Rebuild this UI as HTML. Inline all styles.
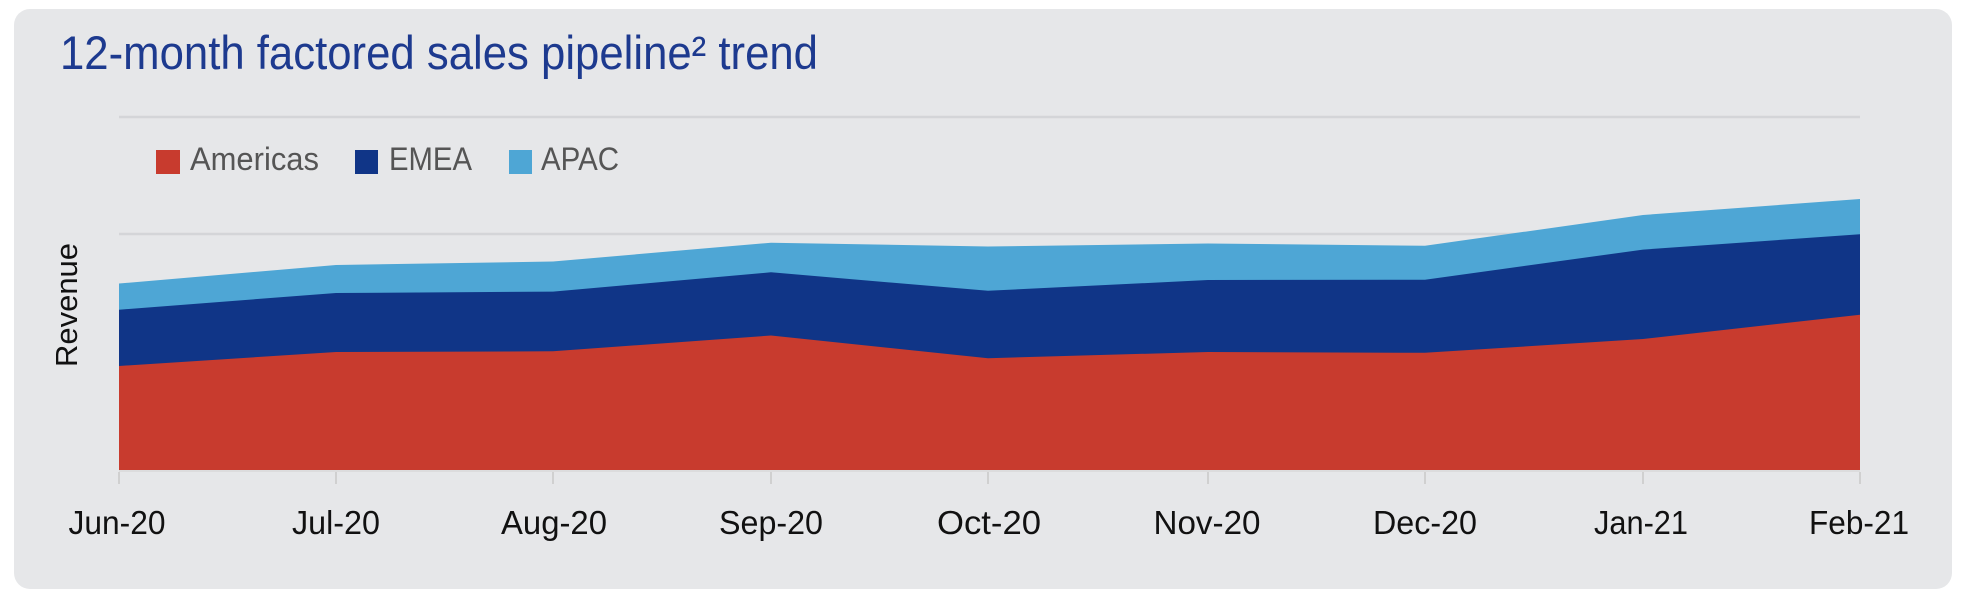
<!DOCTYPE html>
<html><head><meta charset="utf-8"><style>
html,body{margin:0;padding:0;background:#fff;width:1970px;height:604px;overflow:hidden}
</style></head><body>
<svg width="1970" height="604" viewBox="0 0 1970 604" xmlns="http://www.w3.org/2000/svg">
<rect x="14" y="9" width="1938" height="580" rx="16" fill="#e6e7e9"/>
<text x="60" y="69" font-family="Liberation Sans, sans-serif" font-size="47" fill="#1d3a8f" textLength="758" lengthAdjust="spacingAndGlyphs">12-month factored sales pipeline² trend</text>
<line x1="119" y1="117" x2="1860" y2="117" stroke="#d4d5d8" stroke-width="2.5"/>
<line x1="119" y1="234" x2="1860" y2="234" stroke="#d4d5d8" stroke-width="2.5"/>
<rect x="156" y="150" width="24" height="24" fill="#c83b2e"/>
<text x="190" y="170" font-family="Liberation Sans, sans-serif" font-size="32" fill="#555" textLength="129" lengthAdjust="spacingAndGlyphs">Americas</text>
<rect x="355" y="150" width="23" height="24" fill="#103587"/>
<text x="389" y="170" font-family="Liberation Sans, sans-serif" font-size="32" fill="#555" textLength="83" lengthAdjust="spacingAndGlyphs">EMEA</text>
<rect x="509" y="150" width="23" height="24" fill="#4ea6d5"/>
<text x="541" y="170" font-family="Liberation Sans, sans-serif" font-size="32" fill="#555" textLength="78" lengthAdjust="spacingAndGlyphs">APAC</text>
<text transform="translate(77,305) rotate(-90)" text-anchor="middle" font-family="Liberation Sans, sans-serif" font-size="31" fill="#111">Revenue</text>
<polygon fill="#4ea6d5" points="119,283.5 336,265 553,261.5 771,242.7 988,246.5 1208,243.5 1425,245.8 1643,215 1860,199 1860,470 119,470"/>
<polygon fill="#103587" points="119,309.7 336,293 553,291.6 771,272.3 988,290.8 1208,280 1425,279.7 1643,249.6 1860,234.2 1860,470 119,470"/>
<polygon fill="#c83b2e" points="119,366 336,352 553,351.3 771,335.5 988,358.2 1208,352 1425,352.8 1643,339 1860,314.7 1860,470 119,470"/>
<line x1="119" y1="471" x2="1860" y2="471" stroke="#d9d9d9" stroke-width="1.5"/>
<g stroke="#d0d0d0" stroke-width="2">
<line x1="119" y1="472" x2="119" y2="484"/><line x1="336" y1="472" x2="336" y2="484"/><line x1="553" y1="472" x2="553" y2="484"/><line x1="771" y1="472" x2="771" y2="484"/><line x1="988" y1="472" x2="988" y2="484"/><line x1="1208" y1="472" x2="1208" y2="484"/><line x1="1425" y1="472" x2="1425" y2="484"/><line x1="1643" y1="472" x2="1643" y2="484"/><line x1="1860" y1="472" x2="1860" y2="484"/>
</g>
<g font-family="Liberation Sans, sans-serif" font-size="33" fill="#111" text-anchor="middle">
<text x="117" y="534" textLength="97" lengthAdjust="spacingAndGlyphs">Jun-20</text>
<text x="336" y="534" textLength="88" lengthAdjust="spacingAndGlyphs">Jul-20</text>
<text x="554" y="534" textLength="106" lengthAdjust="spacingAndGlyphs">Aug-20</text>
<text x="771" y="534" textLength="104" lengthAdjust="spacingAndGlyphs">Sep-20</text>
<text x="989" y="534" textLength="104" lengthAdjust="spacingAndGlyphs">Oct-20</text>
<text x="1207" y="534" textLength="107" lengthAdjust="spacingAndGlyphs">Nov-20</text>
<text x="1425" y="534" textLength="104" lengthAdjust="spacingAndGlyphs">Dec-20</text>
<text x="1641" y="534" textLength="94" lengthAdjust="spacingAndGlyphs">Jan-21</text>
<text x="1859" y="534" textLength="100" lengthAdjust="spacingAndGlyphs">Feb-21</text>
</g>
</svg>
</body></html>
